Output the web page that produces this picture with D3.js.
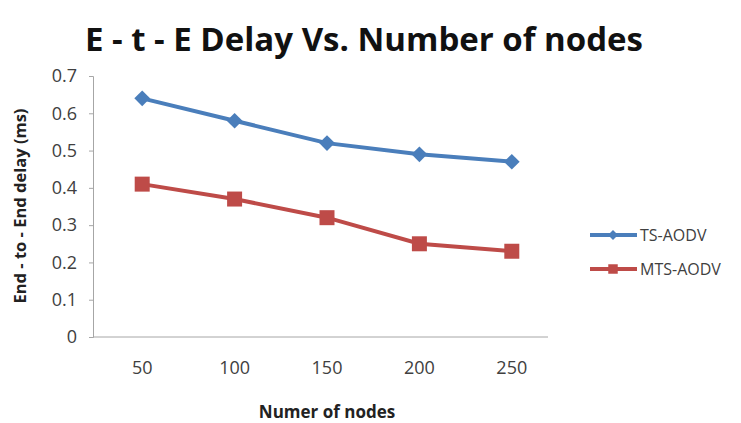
<!DOCTYPE html>
<html>
<head>
<meta charset="utf-8">
<script src="https://cdn.jsdelivr.net/npm/d3@7"></script>
<style>
  body { margin: 0; background: #fff; }
  text { font-family: "Open Sans", "Noto Sans", sans-serif; }
</style>
</head>
<body>
<div id="chart"></div>
<script>
const nodes = ["50", "100", "150", "200", "250"];
const tsAodv = [0.64, 0.58, 0.52, 0.49, 0.47];
const mtsAodv = [0.41, 0.37, 0.32, 0.25, 0.23];
const yTicks = [0, 0.1, 0.2, 0.3, 0.4, 0.5, 0.6, 0.7];

const series = [
  { name: "TS-AODV", values: tsAodv, color: "#4a7ebb", shape: "diamond" },
  { name: "MTS-AODV", values: mtsAodv, color: "#be4b48", shape: "square" }
];

const width = 741, height = 423;
const svg = d3.select("#chart").append("svg")
  .attr("width", width)
  .attr("height", height);

const x = d3.scaleBand().domain(nodes).range([96, 558]);
const y = d3.scaleLinear().domain([0, 0.7]).range([337, 76]);

// excel style markers: diamond is a square turned 45 degrees
const marker = (shape, size) => d3.symbol().type(d3.symbolSquare).size(shape === "square" ? size : size * 0.55)();
const markerRot = shape => shape === "diamond" ? " rotate(45)" : "";

// title
svg.append("text")
  .attr("x", 364).attr("y", 51)
  .attr("text-anchor", "middle")
  .style("font-size", "33px")
  .style("font-weight", 700)
  .attr("fill", "#111")
  .text("E - t - E Delay Vs. Number of nodes");

// y axis
const yAxis = svg.append("g")
  .attr("transform", "translate(93,0)")
  .call(d3.axisLeft(y).tickValues(yTicks).tickSize(4).tickPadding(12).tickFormat(d => d === 0 ? "0" : d3.format(".1f")(d)));
yAxis.select(".domain").attr("stroke", "#a6a6a6");
yAxis.selectAll(".tick line").attr("stroke", "#a6a6a6");
yAxis.selectAll("text").style("font-size", "18px").attr("fill", "#404040");

// x axis
const xAxis = svg.append("g")
  .attr("transform", "translate(0,337)")
  .call(d3.axisBottom(x).tickSize(0).tickPadding(24));
xAxis.select(".domain").attr("stroke", "#a6a6a6").attr("d", "M93,0H548");
xAxis.selectAll("text").style("font-size", "18px").attr("fill", "#404040");

// axis titles
svg.append("text")
  .attr("transform", "translate(26,206) rotate(-90)")
  .attr("text-anchor", "middle")
  .style("font-size", "16.5px")
  .style("font-weight", 700)
  .attr("fill", "#222")
  .text("End - to - End delay (ms)");

svg.append("text")
  .attr("x", 327).attr("y", 418)
  .attr("text-anchor", "middle")
  .style("font-size", "17px")
  .style("font-weight", 700)
  .attr("fill", "#222")
  .text("Numer of nodes");

const line = d3.line()
  .x((d, i) => x(nodes[i]) + x.bandwidth() / 2)
  .y(d => y(d));

series.forEach(s => {
  svg.append("path")
    .datum(s.values)
    .attr("fill", "none")
    .attr("stroke", s.color)
    .attr("stroke-width", 4)
    .attr("d", line);

  svg.selectAll(null)
    .data(s.values)
    .join("path")
    .attr("transform", (d, i) => `translate(${x(nodes[i]) + x.bandwidth() / 2},${y(d)})${markerRot(s.shape)}`)
    .attr("d", marker(s.shape, 225))
    .attr("fill", s.color);
});

// legend
const legend = svg.append("g");
series.forEach((s, i) => {
  const ly = 235 + i * 34;
  legend.append("line")
    .attr("x1", 590).attr("x2", 637)
    .attr("y1", ly).attr("y2", ly)
    .attr("stroke", s.color)
    .attr("stroke-width", 4);
  legend.append("path")
    .attr("transform", `translate(613,${ly})${markerRot(s.shape)}`)
    .attr("d", marker(s.shape, 90))
    .attr("fill", s.color);
  legend.append("text")
    .attr("x", 640).attr("y", ly + 6)
    .style("font-size", "16px")
    .attr("fill", "#404040")
    .text(s.name);
});
</script>
</body>
</html>
